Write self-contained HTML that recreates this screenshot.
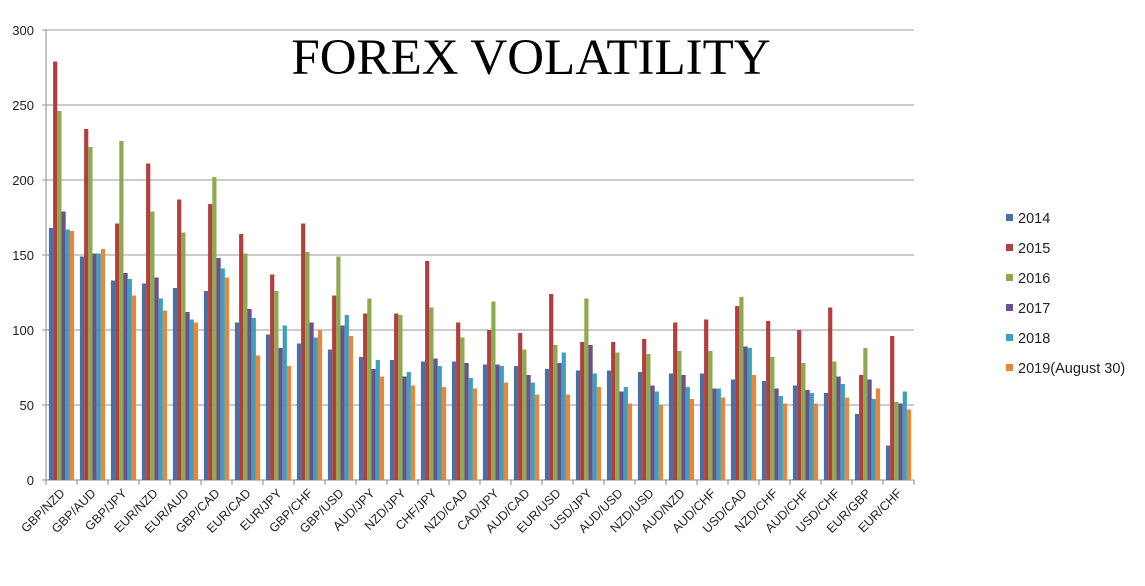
<!DOCTYPE html>
<html><head><meta charset="utf-8"><style>
body{margin:0;background:#fff;width:1145px;height:581px;overflow:hidden}
svg text{font-family:"Liberation Sans",sans-serif}
</style></head><body>
<svg id="c" width="1145" height="581">
<text x="531" y="74" text-anchor="middle" style="font-family:'Liberation Serif',serif;font-size:51px">FOREX VOLATILITY</text>
<g id="grid"></g><g id="bars"></g><g id="axes"></g><g id="legend"></g>
</svg>
<script>
const categories=["GBP/NZD","GBP/AUD","GBP/JPY","EUR/NZD","EUR/AUD","GBP/CAD","EUR/CAD","EUR/JPY","GBP/CHF","GBP/USD","AUD/JPY","NZD/JPY","CHF/JPY","NZD/CAD","CAD/JPY","AUD/CAD","EUR/USD","USD/JPY","AUD/USD","NZD/USD","AUD/NZD","AUD/CHF","USD/CAD","NZD/CHF","AUD/CHF","USD/CHF","EUR/GBP","EUR/CHF"];
const seriesNames=["2014","2015","2016","2017","2018","2019(August 30)"];
const s2014=[168,149,133,131,128,126,105,97,91,87,82,80,79,79,77,76,74,73,73,72,71,71,67,66,63,58,44,23];
const s2015=[279,234,171,211,187,184,164,137,171,123,111,111,146,105,100,98,124,92,92,94,105,107,116,106,100,115,70,96];
const s2016=[246,222,226,179,165,202,151,126,152,149,121,110,115,95,119,87,90,121,85,84,86,86,122,82,78,79,88,52];
const s2017=[179,151,138,135,112,148,114,88,105,103,74,69,81,78,77,70,78,90,59,63,70,61,89,61,60,69,67,51];
const s2018=[167,151,134,121,107,141,108,103,95,110,80,72,76,68,76,65,85,71,62,59,62,61,88,56,58,64,54,59];
const s2019=[166,154,123,113,105,135,83,76,100,96,69,63,62,61,65,57,57,62,51,50,54,55,70,51,51,55,61,47];
const yTicks=[0,50,100,150,200,250,300];
const series=[s2014,s2015,s2016,s2017,s2018,s2019];
const colors=["#4a6fa5","#b0403d","#8eaa4e","#6a5290","#3ea0bf","#e8873a"];
const NS="http://www.w3.org/2000/svg";
const X0=46,X1=914,Y0=480,Y1=30;
const y=v=>Y0-(v/300)*(Y0-Y1);
const band=(X1-X0)/categories.length;
const bx=i=>X0+i*band;
function mk(t,a,p){const e=document.createElementNS(NS,t);for(const k in a)e.setAttribute(k,a[k]);p.appendChild(e);return e;}
const grid=document.getElementById('grid'),axes=document.getElementById('axes'),bars=document.getElementById('bars'),leg=document.getElementById('legend');
yTicks.forEach(t=>{
 const l=mk('line',{x1:X0-4,x2:X1,y1:y(t),y2:y(t),stroke:t===0?'#888':'#999','stroke-width':1},grid);
 
 
 const tx=mk('text',{x:34,y:y(t)+5,'text-anchor':'end','font-size':13,fill:'#222'},axes);
 tx.textContent=t;
 
 
});
mk('line',{x1:X0,x2:X0,y1:Y1,y2:Y0,stroke:'#888'},axes);
const bw=4.2,gw=bw*6;
categories.forEach((c,i)=>{
 const tk=mk('line',{x1:bx(i),x2:bx(i),y1:Y0,y2:Y0+5,stroke:'#888'},axes);
 
 
 const start=bx(i)+(band-gw)/2;
 series.forEach((s,j)=>{
  const r=mk('rect',{x:start+j*bw,y:y(s[i]),width:bw,height:Y0-y(s[i]),fill:colors[j]},bars);
  
  
 });
 const cx=bx(i)+band/2+4;
 const t=mk('text',{x:cx,y:Y0+14,'text-anchor':'end','font-size':12.5,fill:'#222',transform:`rotate(-45 ${cx} ${Y0+14})`},axes);
 t.textContent=c;
 
 
});
mk('line',{x1:X1,x2:X1,y1:Y0,y2:Y0+5,stroke:'#888'},axes);
seriesNames.forEach((n,j)=>{
 const g=mk('g',{},leg);
 
 
 mk('rect',{x:1006,y:214+j*30,width:7,height:7,fill:colors[j]},g);
 const t=mk('text',{x:1018,y:223+j*30,'font-size':14.5,fill:'#222'},g);
 t.textContent=n;
});
</script>
</body></html>
